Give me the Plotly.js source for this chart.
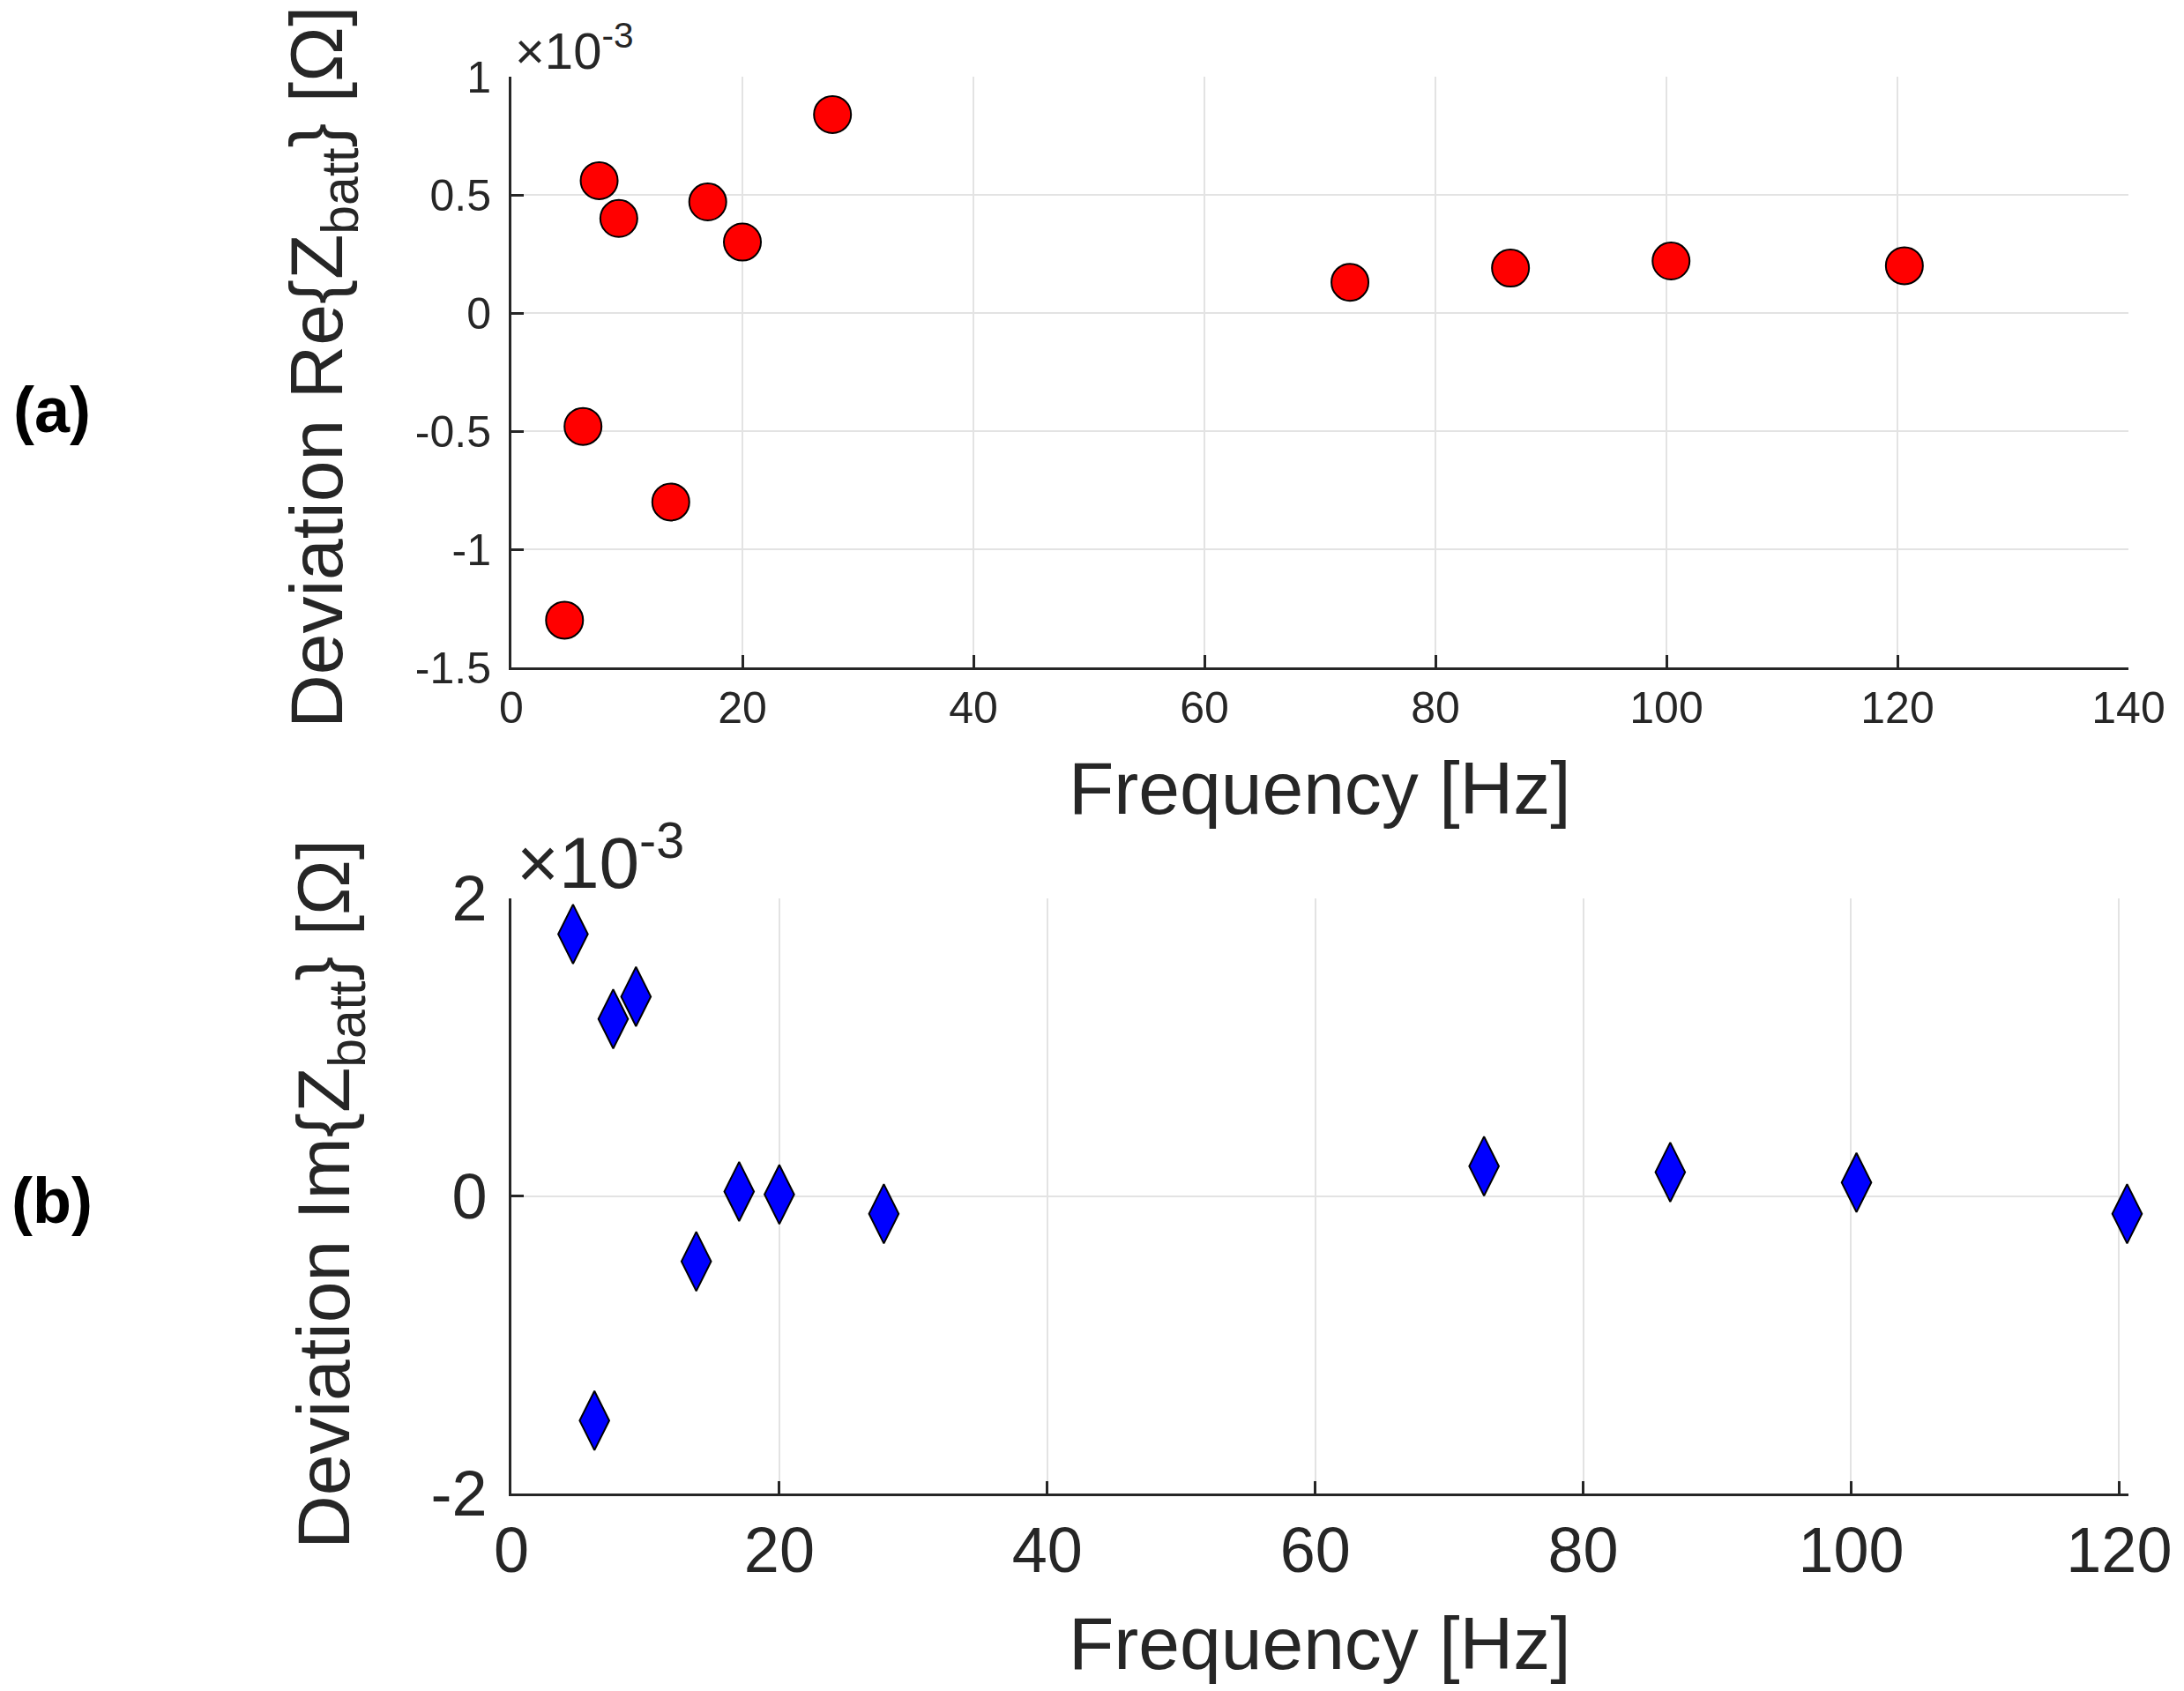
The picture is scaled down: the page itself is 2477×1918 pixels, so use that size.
<!DOCTYPE html>
<html>
<head>
<meta charset="utf-8">
<script src="https://cdn.plot.ly/plotly-3.0.1.min.js"></script>
<style>
  html, body { margin: 0; padding: 0; background: #fff; }
  #myDiv { width: 2477px; height: 1918px; }
</style>
</head>
<body>
<div id="myDiv"></div>
<script>
// frequencies of the measured points [Hz]
const freq = [4.6, 6.2, 7.6, 9.3, 13.8, 17.0, 20.0, 27.8, 72.6, 86.5, 100.4, 120.6];

// deviations, in units of 1e-3 Ohm (as on the axes)
const reDev = [-1.30, -0.48, 0.56, 0.40, -0.80, 0.47, 0.30, 0.84, 0.13, 0.19, 0.22, 0.20];
const imDev = [1.76, -1.51, 1.19, 1.34, -0.44, 0.03, 0.01, -0.12, 0.20, 0.16, 0.09, -0.12];

const topYTicks = [-1.5, -1, -0.5, 0, 0.5, 1];
const botYTicks = [-2, 0, 2];

const ink = '#262626';
const grid = '#e3e3e3';
const font = 'Liberation Sans, Arial, sans-serif';

function W(px) { return px / 2477; }
function H(py) { return 1 - py / 1918; }

var trace1 = {
  x: freq,
  y: reDev,
  xaxis: 'x',
  yaxis: 'y',
  type: 'scatter',
  mode: 'markers',
  cliponaxis: false,
  marker: { symbol: 'circle', size: 42, color: '#ff0000', line: { color: '#000000', width: 2 } }
};

var trace2 = {
  x: freq,
  y: imDev,
  xaxis: 'x2',
  yaxis: 'y2',
  type: 'scatter',
  mode: 'markers',
  cliponaxis: false,
  marker: { symbol: 'diamond-tall', size: 48, color: '#0000ff', line: { color: '#000000', width: 2 } }
};

function xAx(range, dom, size, anchor) {
  return {
    domain: dom, range: range, anchor: anchor,
    dtick: 20, tick0: 0,
    showgrid: true, gridcolor: grid, gridwidth: 2,
    zeroline: false,
    showline: true, linecolor: ink, linewidth: 3,
    ticks: 'inside', ticklen: 14, tickwidth: 3, tickcolor: ink,
    tickfont: { family: font, size: size, color: ink },
    automargin: false, fixedrange: true
  };
}

function yAx(range, dom, vals, size, anchor) {
  return {
    domain: dom, range: range, anchor: anchor,
    tickvals: vals,
    ticktext: vals.map(String),
    showgrid: true, gridcolor: grid, gridwidth: 2,
    zeroline: false,
    showline: true, linecolor: ink, linewidth: 3,
    ticks: 'inside', ticklen: 14, tickwidth: 3, tickcolor: ink,
    ticklabelstandoff: 10,
    tickfont: { family: font, size: size, color: ink },
    automargin: false, fixedrange: true
  };
}

function note(text, x, y, size, opts) {
  return Object.assign({
    text: text, xref: 'paper', yref: 'paper', x: x, y: y,
    showarrow: false, xanchor: 'center', yanchor: 'middle',
    font: { family: font, size: size, color: ink }
  }, opts || {});
}

var layout = {
  width: 2477,
  height: 1918,
  margin: { l: 0, r: 0, t: 0, b: 0 },
  paper_bgcolor: '#ffffff',
  plot_bgcolor: '#ffffff',
  showlegend: false,
  xaxis: xAx([0, 140], [W(580), W(2414)], 50, 'y'),
  yaxis: yAx([-1.5, 1], [H(757), H(87)], topYTicks, 50, 'x'),
  xaxis2: xAx([0, 120.7], [W(580), W(2414)], 72, 'y2'),
  yaxis2: yAx([-2, 2], [H(1694), H(1019)], botYTicks, 72, 'x2'),
  annotations: [
    note('Frequency [Hz]', W(1497), H(894), 84),
    note('Frequency [Hz]', W(1497), H(1864), 84),
    note('Deviation Re{Z<sub>batt</sub>} [Ω]', W(365), H(416), 84, { textangle: -90 }),
    note('Deviation Im{Z<sub>batt</sub>} [Ω]', W(373), H(1355), 84, { textangle: -90 }),
    note('×10<sup>-3</sup>', W(582), H(54), 58, { xanchor: 'left' }),
    note('×10<sup>-3</sup>', W(584), H(972), 82, { xanchor: 'left' }),
    note('<b>(a)</b>', W(59), H(465), 72, { font: { family: font, size: 72, color: '#000' } }),
    note('<b>(b)</b>', W(59), H(1362), 72, { font: { family: font, size: 72, color: '#000' } })
  ]
};

Plotly.newPlot('myDiv', [trace1, trace2], layout, { staticPlot: true });
</script>
</body>
</html>
